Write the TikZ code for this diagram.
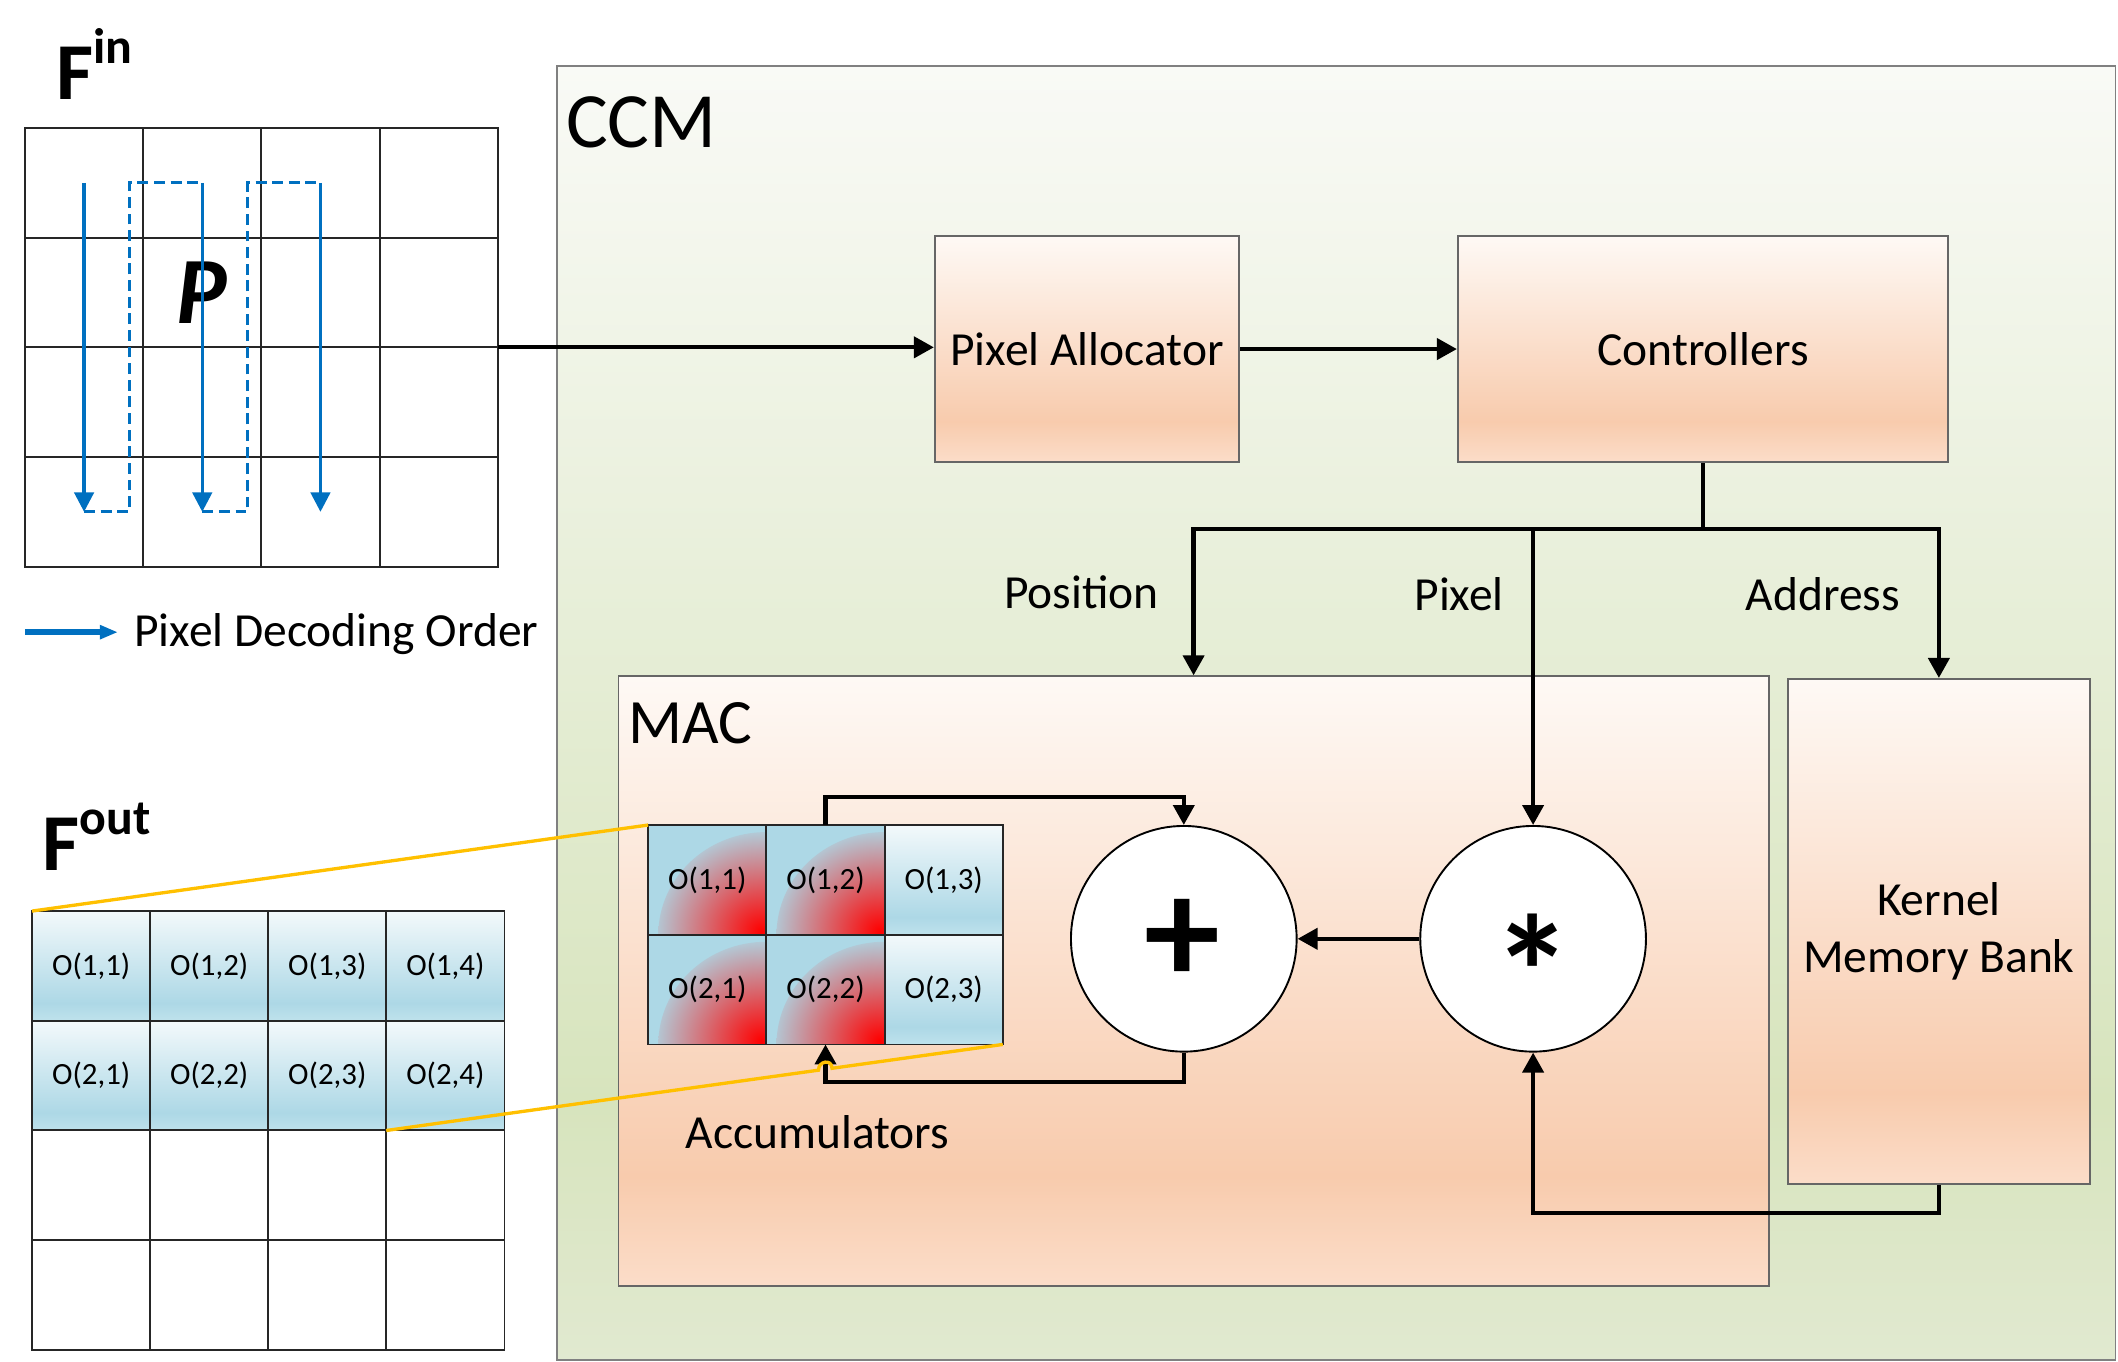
\documentclass[tikz,border=0pt]{standalone}
\usepackage{fontspec}
\setmainfont{Carlito}
\usepackage{tikz}
\usetikzlibrary{positioning,arrows.meta,calc}
\definecolor{ordblue}{HTML}{0070C0}
\definecolor{zoomgold}{HTML}{FFC000}
\definecolor{cellblue}{HTML}{ADD8E6}
\definecolor{orT}{HTML}{FEF9F5}
\definecolor{orM}{HTML}{F8CBAD}
\definecolor{orB}{HTML}{FBDDC9}
\definecolor{grT}{HTML}{F9FAF6}
\definecolor{grM}{HTML}{D7E4BD}
\definecolor{grB}{HTML}{E1E9D0}
\definecolor{blT}{HTML}{F3F9FB}
\definecolor{blB}{HTML}{BFE2EC}
\pgfdeclareverticalshading{orgrad}{100bp}{color(0bp)=(orB); color(25bp)=(orB); color(34bp)=(orM); color(75bp)=(orT); color(100bp)=(orT)}
\pgfdeclareverticalshading{grgrad}{100bp}{color(0bp)=(grB); color(25bp)=(grB); color(35bp)=(grM); color(75bp)=(grT); color(100bp)=(grT)}
\pgfdeclareverticalshading{blgrad}{100bp}{color(0bp)=(blB); color(25bp)=(blB); color(33bp)=(cellblue); color(75bp)=(blT); color(100bp)=(blT)}
\tikzset{
box/.style={draw=black!60,line width=0.4pt,shade,shading=orgrad,minimum height=1.673cm,inner sep=1pt,align=center,font=\fontsize{10}{12}\selectfont},
cell/.style={draw=black!85,line width=0.4pt,minimum width=0.875cm,minimum height=0.812cm,inner sep=0pt,outer sep=0pt,font=\fontsize{6.5}{8}\selectfont},
bluecell/.style={cell,shade,shading=blgrad},
hotcell/.style={cell,fill=cellblue,path picture={\shade[inner color=red,outer color=cellblue] (path picture bounding box.south east) ellipse (0.8cm and 0.76cm);}},
op/.style={circle,draw,line width=0.4pt,fill=white,minimum size=1.67cm,inner sep=0pt},
arrow/.style={-{Triangle[length=4.2pt,width=4.4pt]},line width=0.9pt},
wire/.style={line width=0.9pt},
order/.style={ordblue,line width=0.7pt,-{Triangle[length=4.1pt,width=4.1pt]}},
orderdash/.style={ordblue,line width=0.7pt,dash pattern=on 2.3pt off 1.2pt},
zoomline/.style={zoomgold,line width=0.7pt},
lbl/.style={inner sep=0pt,font=\fontsize{10}{12}\selectfont}
}

\begin{document}
\begin{tikzpicture}[x=0.01cm,y=-0.01cm]
\useasboundingbox (0,0) rectangle (1568,1008);
\node[draw=black!50,line width=0.4pt,shade,shading=grgrad,minimum width=11.534cm,minimum height=9.579cm,inner sep=0pt](ccm) at (989.1,527.85){};
\node[anchor=base west,inner sep=0pt,font=\fontsize{16.5}{19}\selectfont] at ($(ccm.north west)+(7,61.4)$){CCM};
\node[box,minimum width=2.251cm](pa) at (804.7,258.4){Pixel Allocator};
\node[box,minimum width=3.627cm](ctrl) at (1260.75,258.4){Controllers};
\node[box,minimum width=8.511cm,minimum height=4.512cm](mac) at (883.65,726.4){};
\node[anchor=base west,inner sep=0pt,font=\fontsize{13.3}{16}\selectfont] at ($(mac.north west)+(7.4,50.7)$){MAC};
\node[box,minimum width=2.238cm,minimum height=3.738cm](kmb) at (1435.4,689.6){Kernel\\Memory Bank};
\node[op](plus) at (876.4,695){};
\node[op](star) at (1135,695){};
\node[anchor=base,inner sep=0pt,font=\fontsize{32}{38}\selectfont\bfseries] at ($(plus)+(-1,33)$){+};
\node[anchor=base,inner sep=0pt,font=\fontsize{34}{40}\selectfont\bfseries] at ($(star)+(0,67)$){*};

\node[anchor=base west,inner sep=0pt](finlbl) at (41,74){\fontsize{17}{20}\selectfont\bfseries F\raisebox{7.7pt}{\fontsize{10.5}{12}\selectfont in}};
\node[anchor=base west,inner sep=0pt](foutlbl) at (31,644.8){\fontsize{17}{20}\selectfont\bfseries F\raisebox{7.7pt}{\fontsize{10.5}{12}\selectfont out}};
\foreach \r in {1,...,4} \foreach \c in {1,...,4}
  \node[cell](fin-\r-\c) at ({18.5+87.5*(\c-0.5)},{94.7+81.2*(\r-0.5)}){};
\foreach \r in {1,2} \foreach \c in {1,...,4}
  \node[bluecell](fout-\r-\c) at ({23.8+87.4*(\c-0.5)},{674.5+81.2*(\r-0.5)}){O(\r,\c)};
\foreach \r in {3,4} \foreach \c in {1,...,4}
  \node[cell](fout-\r-\c) at ({23.8+87.4*(\c-0.5)},{674.5+81.2*(\r-0.5)}){};
\foreach \r in {1,2} {
  \foreach \c in {1,2}
    \node[hotcell](acc-\r-\c) at ({479.9+87.5*(\c-0.5)},{610.8+81.2*(\r-0.5)}){O(\r,\c)};
  \node[bluecell](acc-\r-3) at ({479.9+87.5*2.5},{610.8+81.2*(\r-0.5)}){O(\r,3)};
}
\node[lbl,anchor=base west](acclbl) at (507,850){Accumulators};

\node[inner sep=0pt,font=\fontsize{20}{24}\selectfont\bfseries\itshape](p) at (fin-2-2){P};
\draw[orderdash](fin-4-1.center) -- ++(33.4,0) |- (fin-1-2.center);
\draw[orderdash](fin-4-2.center) -- ++(33.7,0) |- (fin-1-3.center);
\foreach \c in {1,2,3} \draw[order](fin-1-\c.center) -- (fin-4-\c.center);
\coordinate (legA) at (18.5,468);
\coordinate (legB) at (87.3,468);
\draw[ordblue,line width=1.4pt,-{Triangle[length=3.8pt,width=2.8pt]}](legA) -- (legB);
\node[lbl,anchor=base west](leg) at (98.7,478.4){Pixel Decoding Order};

\draw[arrow](fin-2-4.south east) -- (fin-2-4.south east -| pa.west);
\draw[arrow](pa) -- (ctrl);
\draw[wire](ctrl.south) -- ++(0,48.6) coordinate (bus);
\draw[arrow](bus) -| (mac.north);
\draw[arrow](bus) -| (kmb.north);
\draw[arrow](bus -| star.north) -- (star.north);
\node[lbl,anchor=base east] at ($(mac.north)+(-25,-49.2)$){Position};
\node[lbl,anchor=base east] at ($(star.north |- bus)+(-21,60.6)$){Pixel};
\node[lbl,anchor=base east] at ($(kmb.north |- bus)+(-28,60.6)$){Address};
\draw[arrow](star.west) -- (plus.east);
\draw[arrow](kmb.south) -- ++(0,20.7) -| (star.south);
\draw[arrow](acc-1-2.north) -- ++(0,-21) -| (plus.north);
\draw[arrow](plus.south) -- ++(0,21.7) -| (acc-2-2.south);

\draw[zoomline](fout-1-1.north west) -- (acc-1-1.north west);
\draw[zoomline](fout-2-4.south west) -- ($(fout-2-4.south west)!0.701!(acc-2-3.south east)$) .. controls +(0,-7) and +(0,-7) .. ($(fout-2-4.south west)!0.723!(acc-2-3.south east)$) -- (acc-2-3.south east);
\end{tikzpicture}
\end{document}
